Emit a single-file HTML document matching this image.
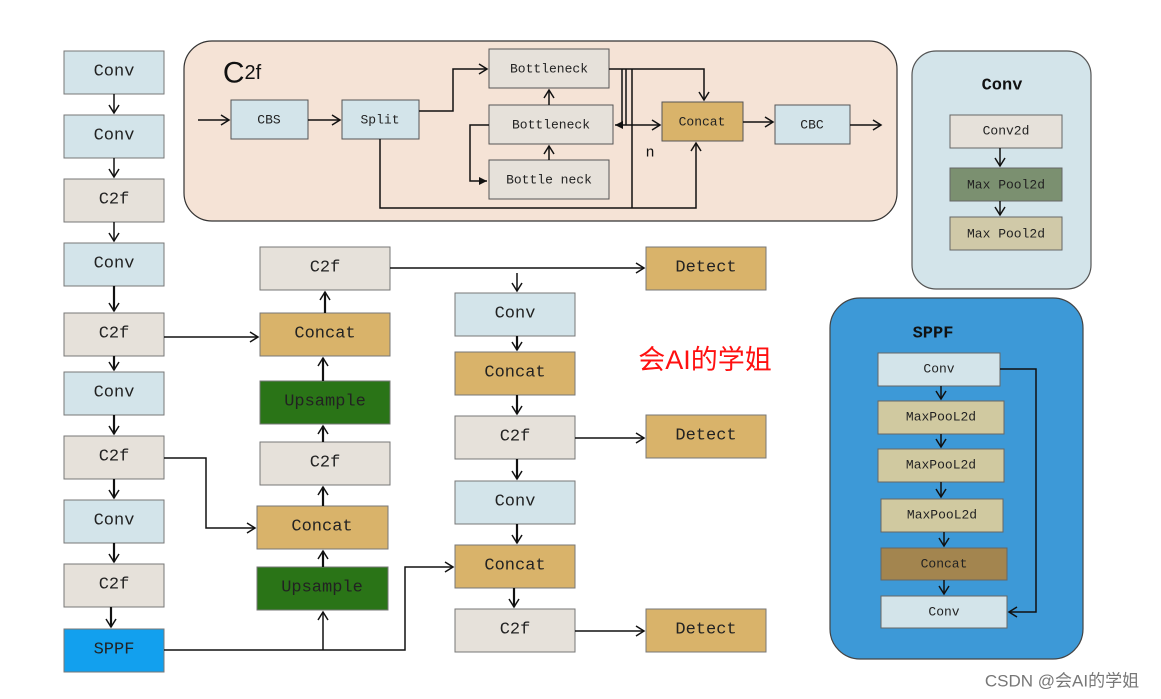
<!DOCTYPE html>
<html><head><meta charset="utf-8"><style>
html,body{margin:0;padding:0;background:#fff;}
svg{display:block;}
text{font-family:"Liberation Mono","DejaVu Sans Mono",monospace;fill:#222;text-anchor:middle;dominant-baseline:central;}
</style></head><body>
<svg width="1161" height="699" viewBox="0 0 1161 699" xmlns="http://www.w3.org/2000/svg">
<defs>
<marker id="a" markerWidth="12" markerHeight="12" refX="10" refY="6" orient="auto" markerUnits="userSpaceOnUse">
<path d="M2,1 L10,6 L2,11" fill="none" stroke="#111" stroke-width="1.5"/></marker>
<marker id="f" markerWidth="10" markerHeight="10" refX="9" refY="5" orient="auto" markerUnits="userSpaceOnUse">
<path d="M1,1 L9,5 L1,9 Z" fill="#111"/></marker>
</defs>
<rect width="1161" height="699" fill="#fff"/>

<!-- C2f panel -->
<rect x="184" y="41" width="713" height="180" rx="28" fill="#f5e3d6" stroke="#333" stroke-width="1.2"/>
<text x="242" y="73" style="font-family:'Liberation Sans',sans-serif;font-size:30px;fill:#111">C<tspan font-size="20">2f</tspan></text>
<g stroke="#555" stroke-width="1">
<rect x="231" y="100" width="77" height="39" fill="#d3e4ea"/>
<rect x="342" y="100" width="77" height="39" fill="#d3e4ea"/>
<rect x="489" y="49" width="120" height="39" fill="#e6e1da"/>
<rect x="489" y="105" width="124" height="39" fill="#e6e1da"/>
<rect x="489" y="160" width="120" height="39" fill="#e6e1da"/>
<rect x="662" y="102" width="81" height="39" fill="#d9b36a"/>
<rect x="775" y="105" width="75" height="39" fill="#d3e4ea"/>
</g>
<g font-size="13">
<text x="269" y="120">CBS</text><text x="380" y="120">Split</text>
<text x="549" y="69">Bottleneck</text><text x="551" y="125">Bottleneck</text>
<text x="549" y="180">Bottle neck</text><text x="702" y="122">Concat</text>
<text x="812" y="125">CBC</text>
</g>
<text x="650" y="152" style="font-family:'Liberation Sans',sans-serif;font-size:15px;fill:#111">n</text>
<g stroke="#111" stroke-width="1.5" fill="none">
<path d="M198,120 H229" marker-end="url(#a)"/>
<path d="M308,120 H340" marker-end="url(#a)"/>
<path d="M419,111 H453 V69 H487" marker-end="url(#a)"/>
<path d="M549,105 V90" marker-end="url(#a)"/>
<path d="M549,160 V146" marker-end="url(#a)"/>
<path d="M489,125 H470 V181 H487" marker-end="url(#f)"/>
<path d="M609,69 H704 V100" marker-end="url(#a)"/>
<path d="M622,69 V125" /><path d="M626,69 V125"/>
<path d="M626,125 H615" marker-end="url(#f)"/>
<path d="M626,125 H660" marker-end="url(#a)"/>
<path d="M632,69 V208"/>
<path d="M380,139 V208 H696 V143" marker-end="url(#a)"/>
<path d="M743,122 H773" marker-end="url(#a)"/>
<path d="M850,125 H881" marker-end="url(#a)"/>
</g>

<!-- Conv panel -->
<rect x="912" y="51" width="179" height="238" rx="24" fill="#d3e4ea" stroke="#555" stroke-width="1.2"/>
<text x="1002" y="86" style="font-family:'Liberation Mono',monospace;font-weight:bold;font-size:17px;fill:#111">Conv</text>
<g stroke="#666" stroke-width="1">
<rect x="950" y="115" width="112" height="33" fill="#e6e1da"/>
<rect x="950" y="168" width="112" height="33" fill="#7b9070"/>
<rect x="950" y="217" width="112" height="33" fill="#d0c9a8"/>
</g>
<g font-size="13"><text x="1006" y="131">Conv2d</text><text x="1006" y="185">Max Pool2d</text><text x="1006" y="234">Max Pool2d</text></g>
<g stroke="#111" stroke-width="1.5" fill="none">
<path d="M1000,148 V166" marker-end="url(#a)"/><path d="M1000,201 V215" marker-end="url(#a)"/>
</g>

<!-- SPPF panel -->
<rect x="830" y="298" width="253" height="361" rx="30" fill="#3d99d7" stroke="#444" stroke-width="1.2"/>
<text x="933" y="334" style="font-family:'Liberation Mono',monospace;font-weight:bold;font-size:17px;fill:#111">SPPF</text>
<g stroke="#666" stroke-width="1">
<rect x="878" y="353" width="122" height="33" fill="#d3e4ea"/>
<rect x="878" y="401" width="126" height="33" fill="#d0c9a0"/>
<rect x="878" y="449" width="126" height="33" fill="#d0c9a0"/>
<rect x="881" y="499" width="122" height="33" fill="#d0c9a0"/>
<rect x="881" y="548" width="126" height="32" fill="#a3854f"/>
<rect x="881" y="596" width="126" height="32" fill="#d3e4ea"/>
</g>
<g font-size="13"><text x="939" y="369">Conv</text><text x="941" y="417">MaxPooL2d</text><text x="941" y="465">MaxPooL2d</text><text x="942" y="515">MaxPooL2d</text><text x="944" y="564">Concat</text><text x="944" y="612">Conv</text></g>
<g stroke="#111" stroke-width="1.5" fill="none">
<path d="M941,386 V399" marker-end="url(#a)"/><path d="M941,434 V447" marker-end="url(#a)"/>
<path d="M941,482 V497" marker-end="url(#a)"/><path d="M944,532 V546" marker-end="url(#a)"/>
<path d="M944,580 V594" marker-end="url(#a)"/>
<path d="M1000,369 H1036 V612 H1009" marker-end="url(#a)"/>
</g>

<!-- main boxes -->
<g stroke="#777" stroke-width="1">
<rect x="64" y="51" width="100" height="43" fill="#d3e4ea"/>
<rect x="64" y="115" width="100" height="43" fill="#d3e4ea"/>
<rect x="64" y="179" width="100" height="43" fill="#e6e1da"/>
<rect x="64" y="243" width="100" height="43" fill="#d3e4ea"/>
<rect x="64" y="313" width="100" height="43" fill="#e6e1da"/>
<rect x="64" y="372" width="100" height="43" fill="#d3e4ea"/>
<rect x="64" y="436" width="100" height="43" fill="#e6e1da"/>
<rect x="64" y="500" width="100" height="43" fill="#d3e4ea"/>
<rect x="64" y="564" width="100" height="43" fill="#e6e1da"/>
<rect x="64" y="629" width="100" height="43" fill="#12a0ee"/>
<rect x="260" y="247" width="130" height="43" fill="#e6e1da"/>
<rect x="260" y="313" width="130" height="43" fill="#d9b36a"/>
<rect x="260" y="381" width="130" height="43" fill="#2a7417"/>
<rect x="260" y="442" width="130" height="43" fill="#e6e1da"/>
<rect x="257" y="506" width="131" height="43" fill="#d9b36a"/>
<rect x="257" y="567" width="131" height="43" fill="#2a7417"/>
<rect x="455" y="293" width="120" height="43" fill="#d3e4ea"/>
<rect x="455" y="352" width="120" height="43" fill="#d9b36a"/>
<rect x="455" y="416" width="120" height="43" fill="#e6e1da"/>
<rect x="455" y="481" width="120" height="43" fill="#d3e4ea"/>
<rect x="455" y="545" width="120" height="43" fill="#d9b36a"/>
<rect x="455" y="609" width="120" height="43" fill="#e6e1da"/>
<rect x="646" y="247" width="120" height="43" fill="#d9b36a"/>
<rect x="646" y="415" width="120" height="43" fill="#d9b36a"/>
<rect x="646" y="609" width="120" height="43" fill="#d9b36a"/>
</g>
<g font-size="17">
<text x="114" y="72">Conv</text><text x="114" y="136">Conv</text><text x="114" y="200">C2f</text>
<text x="114" y="264">Conv</text><text x="114" y="334">C2f</text><text x="114" y="393">Conv</text>
<text x="114" y="457">C2f</text><text x="114" y="521">Conv</text><text x="114" y="585">C2f</text>
<text x="114" y="650">SPPF</text>
<text x="325" y="268">C2f</text><text x="325" y="334">Concat</text><text x="325" y="402">Upsample</text>
<text x="325" y="463">C2f</text><text x="322" y="527">Concat</text><text x="322" y="588">Upsample</text>
<text x="515" y="314">Conv</text><text x="515" y="373">Concat</text><text x="515" y="437">C2f</text>
<text x="515" y="502">Conv</text><text x="515" y="566">Concat</text><text x="515" y="630">C2f</text>
<text x="706" y="268">Detect</text><text x="706" y="436">Detect</text><text x="706" y="630">Detect</text>
</g>
<g stroke="#111" fill="none">
<g stroke-width="1.5">
<path d="M114,94 V113" marker-end="url(#a)"/><path d="M114,158 V177" marker-end="url(#a)"/>
<path d="M114,222 V241" marker-end="url(#a)"/>
</g>
<g stroke-width="2.2">
<path d="M114,286 V311" marker-end="url(#a)"/><path d="M114,356 V370" marker-end="url(#a)"/>
<path d="M114,415 V434" marker-end="url(#a)"/><path d="M114,479 V498" marker-end="url(#a)"/>
<path d="M114,543 V562" marker-end="url(#a)"/><path d="M111,607 V627" marker-end="url(#a)"/>
<path d="M325,313 V292" marker-end="url(#a)"/><path d="M323,381 V358" marker-end="url(#a)"/>
<path d="M323,442 V426" marker-end="url(#a)"/><path d="M323,506 V487" marker-end="url(#a)"/>
<path d="M323,567 V551" marker-end="url(#a)"/>
<path d="M517,336 V350" marker-end="url(#a)"/><path d="M517,395 V414" marker-end="url(#a)"/>
<path d="M517,459 V479" marker-end="url(#a)"/><path d="M517,524 V543" marker-end="url(#a)"/>
<path d="M514,588 V607" marker-end="url(#a)"/>
</g>
<g stroke-width="1.5">
<path d="M164,337 H258" marker-end="url(#a)"/>
<path d="M164,458 H206 V528 H255" marker-end="url(#a)"/>
<path d="M164,650 H405 V567 H453" marker-end="url(#a)"/>
<path d="M323,650 V612" marker-end="url(#a)"/>
<path d="M390,268 H644" marker-end="url(#a)"/>
<path d="M517,273 V291" marker-end="url(#a)"/>
<path d="M575,438 H644" marker-end="url(#a)"/>
<path d="M575,631 H644" marker-end="url(#a)"/>
</g>
</g>

<text x="705" y="360" style="font-family:'Liberation Sans','Noto Sans CJK SC',sans-serif;font-size:27px;fill:#ff1010">会AI的学姐</text>
<text x="1062" y="681" style="font-family:'Liberation Sans','Noto Sans CJK SC',sans-serif;font-size:17px;fill:#777">CSDN @会AI的学姐</text>
</svg>
</body></html>
